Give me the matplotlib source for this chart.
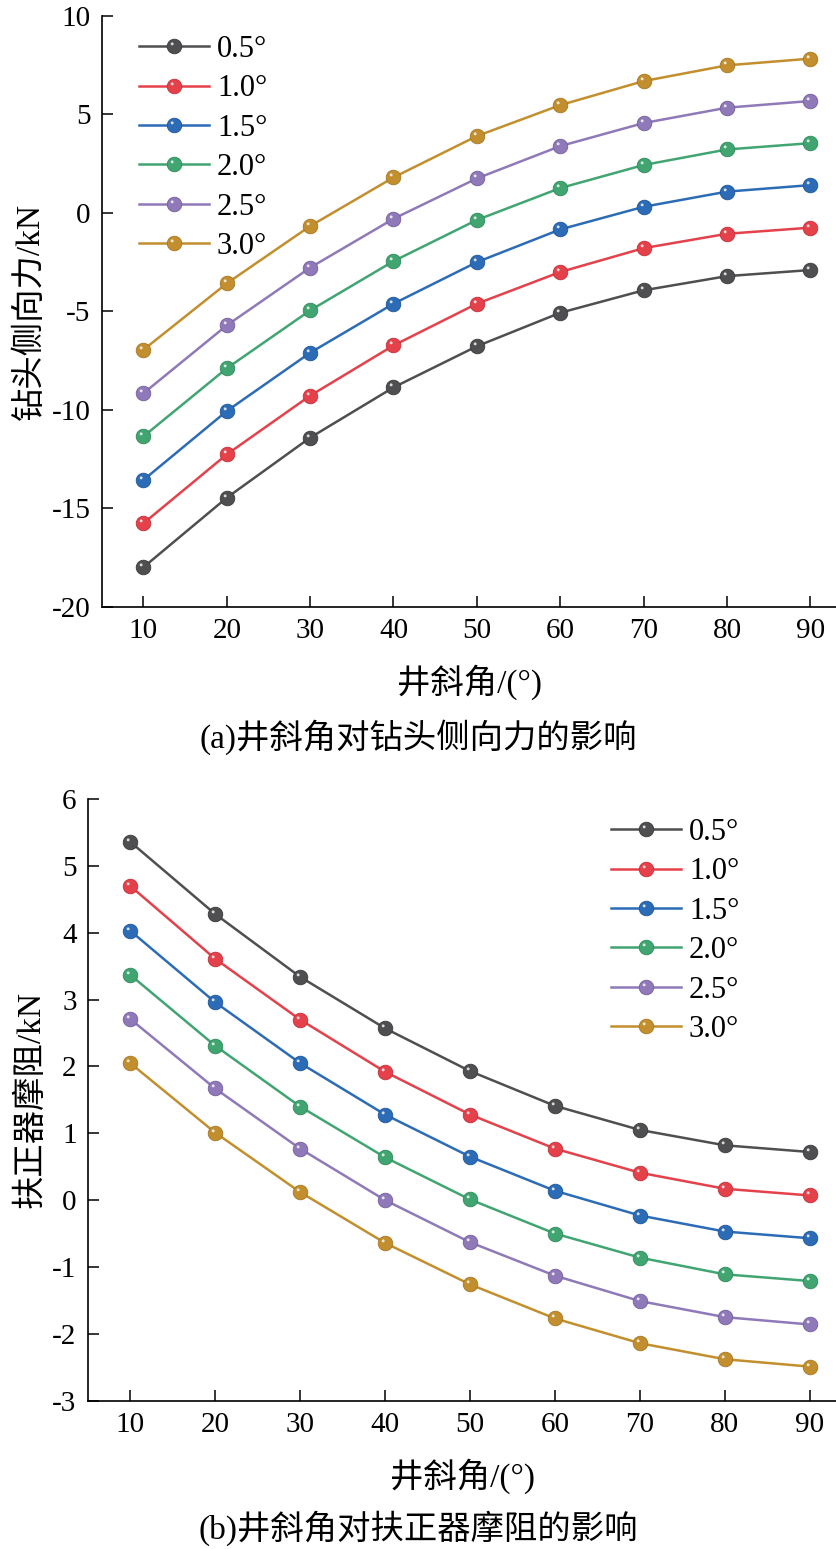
import numpy as np
import matplotlib
matplotlib.use("Agg")
import matplotlib.pyplot as plt
from matplotlib.path import Path
from matplotlib.legend_handler import HandlerTuple

plt.rcParams['font.family'] = ['Liberation Serif', 'Noto Sans CJK SC', 'DejaVu Sans']

angles = [10, 20, 30, 40, 50, 60, 70, 80, 90]
labels = ['0.5°', '1.0°', '1.5°', '2.0°', '2.5°', '3.0°']
colors = ['#4f4f51', '#e5414b', '#2c6cb6', '#41a572', '#8f79b9', '#c38f2e']
edge_colors = ['#3a3a3c', '#c43039', '#1f559a', '#2f8a5b', '#735f9c', '#a57723']

side_force = [
    [-18.0, -14.47, -11.42, -8.87, -6.78, -5.08, -3.94, -3.22, -2.91],
    [-15.77, -12.27, -9.29, -6.74, -4.62, -3.01, -1.80, -1.07, -0.76],
    [-13.57, -10.07, -7.11, -4.62, -2.51, -0.85, 0.30, 1.07, 1.40],
    [-11.36, -7.90, -4.96, -2.46, -0.37, 1.25, 2.42, 3.21, 3.53],
    [-9.17, -5.72, -2.79, -0.31, 1.74, 3.38, 4.55, 5.33, 5.67],
    [-6.96, -3.59, -0.68, 1.79, 3.89, 5.46, 6.68, 7.48, 7.82],
]
drag = [
    [5.36, 4.28, 3.34, 2.57, 1.93, 1.41, 1.05, 0.82, 0.72],
    [4.70, 3.61, 2.70, 1.92, 1.28, 0.77, 0.41, 0.17, 0.07],
    [4.03, 2.96, 2.05, 1.28, 0.65, 0.14, -0.23, -0.47, -0.57],
    [3.37, 2.31, 1.40, 0.64, 0.01, -0.50, -0.86, -1.11, -1.21],
    [2.71, 1.67, 0.77, 0.00, -0.63, -1.13, -1.51, -1.75, -1.86],
    [2.05, 1.01, 0.12, -0.64, -1.26, -1.77, -2.14, -2.38, -2.49],
]

# highlight marker: small dot offset to upper-left inside the marker box
circ = Path.circle((-0.32, 0.36), 0.2)
bounds = Path([(-1, -1), (1, 1)], [Path.MOVETO, Path.MOVETO])
hl_path = Path.make_compound_path(bounds, circ)

W, H = 837, 1549
fig = plt.figure(figsize=(W / 100, H / 100), dpi=100)

FS = 21
LFS = 24
ax1 = fig.add_axes([101.7 / W, 1 - 606.7 / H, (W - 101.7) / W, (606.7 - 15.7) / H])
ax2 = fig.add_axes([87.7 / W, 1 - 1400.7 / H, (W - 87.7) / W, (1400.7 - 799) / H])


def draw(ax, data):
    handles = []
    for vals, c, ec, lab in zip(data, colors, edge_colors, labels):
        ln, = ax.plot(angles, vals, '-', color=c, lw=1.8, marker='o', markersize=10.5,
                      markerfacecolor=c, markeredgecolor=ec, markeredgewidth=0.6, label=lab)
        hl, = ax.plot(angles, vals, linestyle='none', marker=hl_path, markersize=10.5,
                      markerfacecolor='white', markeredgewidth=0, alpha=0.8)
        handles.append((ln, hl))
    return handles


h1 = draw(ax1, side_force)
h2 = draw(ax2, drag)

for ax in (ax1, ax2):
    ax.set_xlim(5, 93.2)
    ax.set_xticks(angles)
    ax.spines['top'].set_visible(False)
    ax.spines['right'].set_visible(False)
    for s in ('left', 'bottom'):
        ax.spines[s].set_linewidth(1.2)
    ax.tick_params(direction='in', length=8, width=1.1, labelsize=FS, pad=8)
    ax.set_xlabel('井斜角/(°)', fontsize=LFS, labelpad=15)

ax1.set_ylim(-20, 10)
ax1.set_yticks([-20, -15, -10, -5, 0, 5, 10])
ax1.set_yticklabels(['-20', '-15', '-10', '-5', '0', '5', '10'])
ax1.set_ylabel('钻头侧向力/kN', fontsize=LFS)
ax1.yaxis.set_label_coords(-(101.7 - 46) / (W - 101.7), 0.5)

ax2.set_ylim(-3, 6)
ax2.set_yticks([-3, -2, -1, 0, 1, 2, 3, 4, 5, 6])
ax2.set_yticklabels(['-3', '-2', '-1', '0', '1', '2', '3', '4', '5', '6'])
ax2.set_ylabel('扶正器摩阻/kN', fontsize=LFS)
ax2.yaxis.set_label_coords(-(87.7 - 46) / (W - 87.7), 0.5)

leg_kw = dict(handler_map={tuple: HandlerTuple(ndivide=1, pad=0)}, frameon=False, fontsize=22,
              handlelength=2.29, handletextpad=0.26, labelspacing=0.34, borderpad=0,
              borderaxespad=0, loc='upper left')
ax1.legend(h1, labels, bbox_to_anchor=(139 / W, 1 - 35 / H), bbox_transform=fig.transFigure, **leg_kw)
ax2.legend(h2, labels, bbox_to_anchor=(611 / W, 1 - 818 / H), bbox_transform=fig.transFigure, **leg_kw)

fig.text(0.5, 1 - 737 / H, '(a)井斜角对钻头侧向力的影响', ha='center', va='center', fontsize=LFS)
fig.text(0.5, 1 - 1528 / H, '(b)井斜角对扶正器摩阻的影响', ha='center', va='center', fontsize=LFS)

fig.savefig('out.png', dpi=100)
